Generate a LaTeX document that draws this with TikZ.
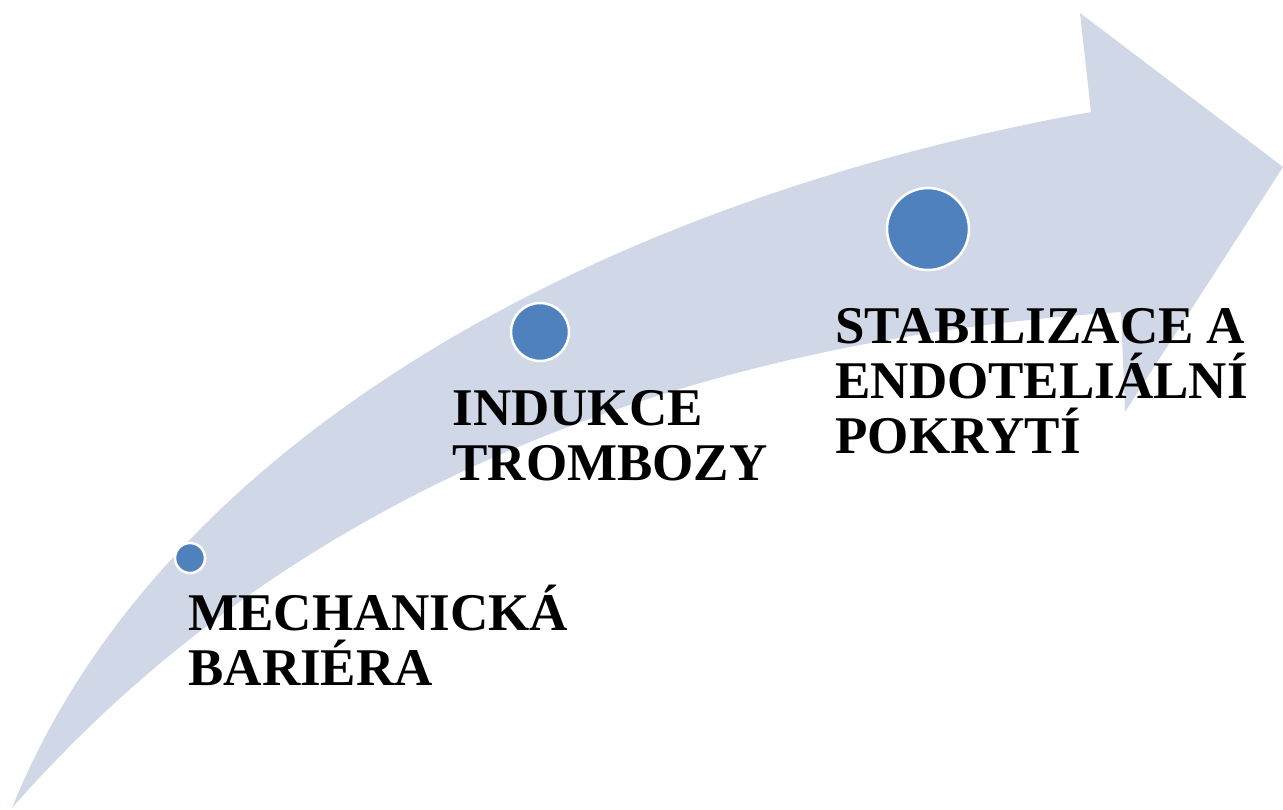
\documentclass[tikz,border=0pt]{standalone}
\usepackage{fontspec}
\setmainfont{Liberation Serif}
\usepackage{tikz}

\definecolor{arrowfill}{HTML}{D0D8E8}
\definecolor{dotfill}{HTML}{4F81BD}

\begin{document}
\begin{tikzpicture}[x=0.5pt,y=-0.5pt,
    dot/.style={circle, fill=dotfill, draw=white, line width=1.25pt, inner sep=0pt},
    label/.style={anchor=base west, align=left, inner sep=0pt,
      font=\fontsize{26.5}{27.5}\selectfont\bfseries}]
          \useasboundingbox (0,0) rectangle (1283,809);
          % curved arrow
          \fill[arrowfill] (12,808) .. controls (160,440) and (600,200) .. (1091,112)
                -- (1080,13) -- (1283,167) -- (1125,412) -- (1121,312)
                .. controls (700,340) and (300,480) .. cycle;
          % steps (labels placed by their last baseline)
          \node[dot, minimum size=15pt] (d1) at (190,558) {};
          \node[dot, minimum size=29pt] (d2) at (540,332) {};
          \node[dot, minimum size=41pt] (d3) at (928,229) {};
          \node[label] (t1) at (188,685) {MECHANICKÁ\\BARIÉRA};
          \node[label] (t2) at (452,480) {INDUKCE\\TROMBOZY};
          \node[label] (t3) at (835,453) {STABILIZACE A\\ENDOTELIÁLNÍ\\POKRYTÍ};
        \end{tikzpicture}
\end{document}
